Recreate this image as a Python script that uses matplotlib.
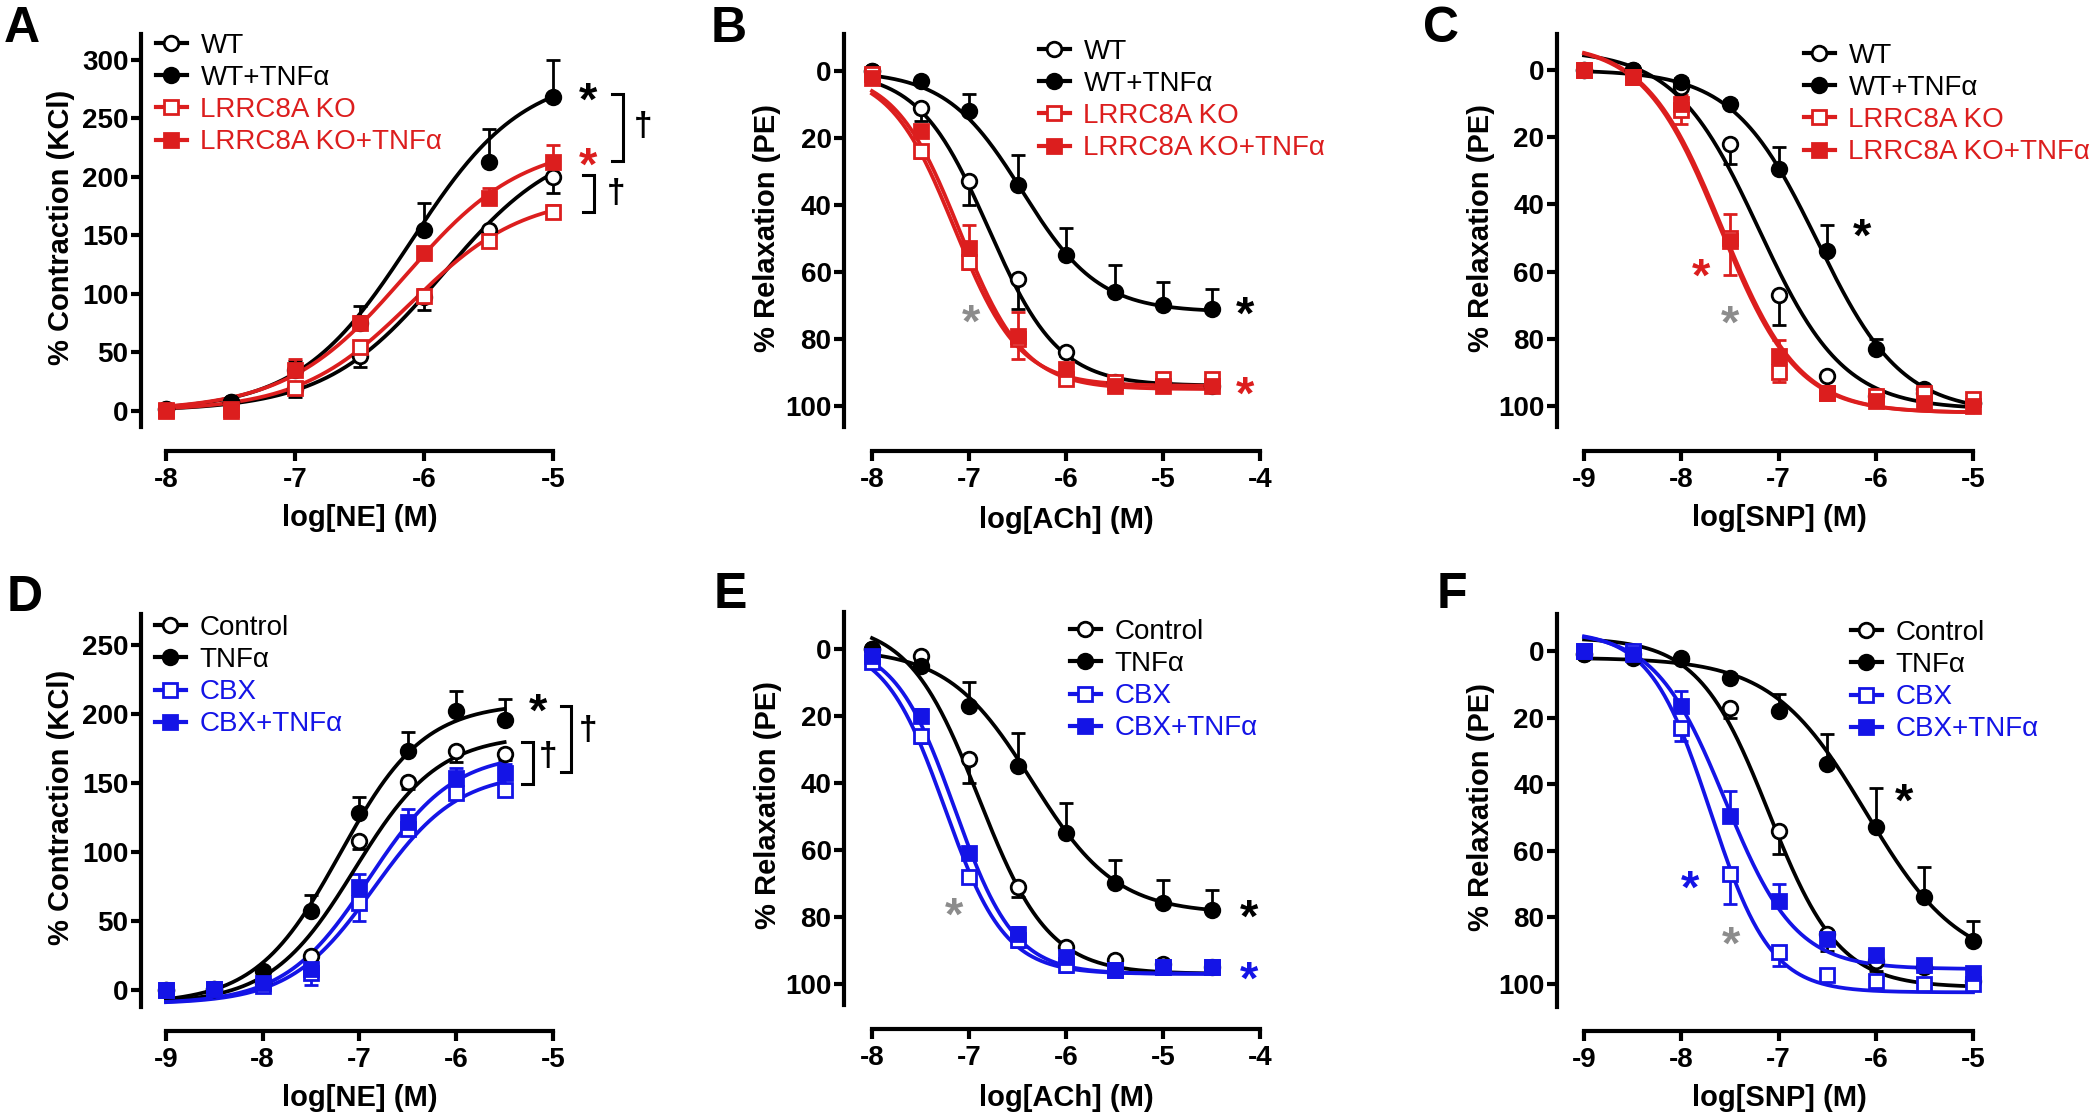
import numpy as np
import matplotlib
matplotlib.use("Agg")
import matplotlib.pyplot as plt
from matplotlib.lines import Line2D

plt.rcParams['font.family'] = ['Liberation Sans', 'DejaVu Sans']
plt.rcParams['font.weight'] = 'bold'
plt.rcParams['axes.unicode_minus'] = False

W, H = 2100, 1115
DPI = 100

BLACK = '#000000'
RED = '#DC1E1E'
BLUE = '#1414E6'
GRAY = '#8C8C8C'

# ---------------- data (mean, sem) ----------------
# A: NE contraction, WT vs LRRC8A KO
a_x = [-8, -7.5, -7, -6.5, -6, -5.5, -5]
a_wt = [2, 8, 19, 47, 97, 155, 200]
a_wt_sem = [2, 2, 7, 9, 11, 6, 14]
a_wt_tnf = [2, 8, 35, 75, 155, 213, 268]
a_wt_tnf_sem = [1, 2, 8, 15, 23, 28, 32]
a_ko = [1, 2, 20, 55, 98, 145, 170]
a_ko_sem = [1, 1, 3, 4, 6, 3, 6]
a_ko_tnf = [0, 0, 35, 75, 135, 182, 213]
a_ko_tnf_sem = [3, 2, 9, 6, 5, 9, 14]

# B: ACh relaxation
b_x = [-8, -7.5, -7, -6.5, -6, -5.5, -5, -4.5]
b_wt = [0, 11, 33, 62, 84, 93, 93, 94]
b_wt_sem = [1, 4, 7, 9, 1, 1, 1, 1]
b_wt_tnf = [0, 3, 12, 34, 55, 66, 70, 71]
b_wt_tnf_sem = [1, 1, 5, 9, 8, 8, 7, 6]
b_ko = [1, 24, 57, 80, 92, 93, 92, 92]
b_ko_sem = [1, 2, 2, 6, 1, 1, 1, 1]
b_ko_tnf = [2, 18, 53, 79, 89, 94, 94, 94]
b_ko_tnf_sem = [1, 1, 7, 7, 1, 1, 1, 1]

# C: SNP relaxation
c_x = [-9, -8.5, -8, -7.5, -7, -6.5, -6, -5.5, -5]
c_wt = [0, 0, 5, 22, 67, 91, 97, 96, 99]
c_wt_sem = [1, 1, 1, 6, 9, 1, 1, 1, 1]
c_wt_tnf = [0, 0, 3.5, 10, 29.5, 54, 83, 95, 99]
c_wt_tnf_sem = [1, 1, 1, 1, 6.5, 8, 3, 1, 1]
c_ko = [0, 2, 12, 50, 90, 96, 97, 96, 98]
c_ko_sem = [1, 1, 4, 11, 3, 1, 1, 1, 1]
c_ko_tnf = [0, 2, 10, 51, 85, 96, 98.5, 99, 100]
c_ko_tnf_sem = [1, 1, 2.5, 8, 4.5, 1, 1, 1, 1]

# D: NE contraction, control vs CBX
d_x = [-9, -8.5, -8, -7.5, -7, -6.5, -6, -5.5]
d_ctl = [0, 1, 5, 25, 108, 151, 173, 171]
d_ctl_sem = [1, 1, 2, 5, 6, 5, 8, 4]
d_tnf = [0, 1, 14, 57, 128, 173, 202, 196]
d_tnf_sem = [1, 1, 3, 12, 12, 14, 15, 15]
d_cbx = [0, 1, 3, 12, 63, 117, 143, 145]
d_cbx_sem = [2, 1, 3, 8, 13, 5, 4, 3]
d_cbx_tnf = [0, 1, 5, 15, 75, 122, 154, 157]
d_cbx_tnf_sem = [2, 1, 2, 4, 9, 9, 7, 7]

# E: ACh relaxation, control vs CBX
e_x = [-8, -7.5, -7, -6.5, -6, -5.5, -5, -4.5]
e_ctl = [0, 2, 33, 71, 89, 93, 94, 95]
e_ctl_sem = [1, 2, 7, 3, 1, 1, 1, 1]
e_tnf = [0, 5, 17, 35, 55, 70, 76, 78]
e_tnf_sem = [1, 1, 7, 10, 9, 7, 7, 6]
e_cbx = [4, 26, 68, 87, 94.5, 96, 95, 95]
e_cbx_sem = [1, 2, 2, 2, 2, 1, 1, 1]
e_cbx_tnf = [2, 20, 61, 85, 92, 96, 95, 95]
e_cbx_tnf_sem = [1, 2, 2, 2, 1, 1, 1, 1]

# F: SNP relaxation, control vs CBX
f_x = [-9, -8.5, -8, -7.5, -7, -6.5, -6, -5.5, -5]
f_ctl = [1, 1, 2, 17, 54, 85, 93, 95, 99]
f_ctl_sem = [1, 1, 1, 3, 7, 5, 3, 1, 1]
f_tnf = [1, 2, 2.5, 8, 18, 34, 53, 74, 87]
f_tnf_sem = [1, 1, 1, 1, 5, 9, 12, 9, 6]
f_cbx = [0, 0, 23, 67, 90.5, 97.4, 99, 100, 100]
f_cbx_sem = [2, 1, 4, 9, 4, 1, 1, 1, 1]
f_cbx_tnf = [0, 1, 16.5, 49.5, 75, 86.5, 91.2, 94.2, 96.6]
f_cbx_tnf_sem = [1, 1, 4.5, 7.5, 5, 2, 1, 1, 1]

# fitted curves: (bottom, top, logEC50, hill slope)
a_fit = [(0, 235, -5.85, 0.95), (0, 290, -6.1, 1.0), (0, 185, -6.1, 1.0), (0, 230, -6.15, 0.95)]
b_fit = [(0, 94, -6.8, 1.2), (0, 72, -6.45, 1.1), (0, 94, -7.15, 1.3), (0, 95, -7.1, 1.3)]
c_fit = [(-6, 101, -7.2, 1.0), (0, 102, -6.6, 1.0), (-8, 102, -7.6, 1.1), (-8, 102, -7.58, 1.1)]
d_fit = [(-10, 185, -7.05, 1.0), (-10, 208, -7.2, 1.0), (-10, 158, -6.85, 1.0), (-10, 172, -6.9, 1.0)]
e_fit = [(-8, 97, -6.9, 1.2), (0, 79, -6.35, 1.0), (-2, 97, -7.25, 1.4), (-2, 97, -7.15, 1.4)]
f_fit = [(-4, 101, -7.1, 1.2), (2, 95, -6.1, 0.9), (-6, 102.5, -7.7, 1.4), (-6, 95.5, -7.55, 1.2)]

top_labels = ['WT', 'WT+TNFα', 'LRRC8A KO', 'LRRC8A KO+TNFα']
bottom_labels = ['Control', 'TNFα', 'CBX', 'CBX+TNFα']


def hill(x, bottom, top, logec50, slope):
    return bottom + (top - bottom) / (1 + 10 ** ((logec50 - x) * slope))


def px_rect(l, r, t, b):
    return [l / W, 1 - b / H, (r - l) / W, (b - t) / H]


def draw_series(ax, x, y, sem, fit, color, marker, filled, err_dir):
    x = np.asarray(x, float)
    y = np.asarray(y, float)
    sem = np.asarray(sem, float)
    xs = np.linspace(x[0], x[-1], 300)
    ax.plot(xs, hill(xs, *fit), color=color, lw=2.7, clip_on=False, zorder=2)
    zero = np.zeros_like(sem)
    yerr = [zero, sem] if err_dir > 0 else [sem, zero]
    cont = ax.errorbar(x, y, yerr=yerr, fmt='none', ecolor=color, elinewidth=2.0,
                       capsize=5, capthick=2.0, zorder=1.5)
    for art in cont.get_children():
        art.set_clip_on(False)
    ms = 10.5 if marker == 'o' else 10
    ax.plot(x, y, ls='none', marker=marker, ms=ms, mew=2.0, mec=color,
            mfc=color if filled else 'white', clip_on=False, zorder=3)


def bracket(ax, x, y0, y1, w):
    ax.plot([x - w, x, x, x - w], [y0, y0, y1, y1], color=BLACK, lw=2.2,
            clip_on=False, solid_joinstyle='miter')


def star(ax, x, y, color, size=34):
    ax.annotate('*', xy=(x, y), xytext=(0, -0.23 * size), textcoords='offset points',
                ha='center', va='center', fontsize=size, fontweight='bold', color=color,
                annotation_clip=False)


def dagger(ax, x, y, size=24):
    ax.text(x, y, '†', ha='center', va='center', fontsize=size, fontweight='bold',
            color=BLACK, clip_on=False)


fig = plt.figure(figsize=(W / DPI, H / DPI), dpi=DPI)

panels = [
    dict(letter='A', let_xy=(22, 29), rect=(141, 553, 34, 427), xlim=(-8.194, -5),
         ylim=(-13.7, 322.2), xticks=[-8, -7, -6, -5],
         yticks=[0, 50, 100, 150, 200, 250, 300], xlabel='log[NE] (M)',
         ylabel='% Contraction (KCl)', ylab_xy=(61, 227), xlab_xy=(360, 518),
         x=a_x, ys=[a_wt, a_wt_tnf, a_ko, a_ko_tnf],
         sems=[a_wt_sem, a_wt_tnf_sem, a_ko_sem, a_ko_tnf_sem], fits=a_fit,
         colors=[BLACK, BLACK, RED, RED], dirs=[-1, 1, 1, 1], labels=top_labels,
         leg_xy=(156, 46)),
    dict(letter='B', let_xy=(729, 29), rect=(844, 1260, 34, 427), xlim=(-8.289, -4),
         ylim=(106.3, -11.0), xticks=[-8, -7, -6, -5, -4],
         yticks=[0, 20, 40, 60, 80, 100], xlabel='log[ACh] (M)',
         ylabel='% Relaxation (PE)', ylab_xy=(767, 228), xlab_xy=(1066, 520),
         x=b_x, ys=[b_wt, b_wt_tnf, b_ko, b_ko_tnf],
         sems=[b_wt_sem, b_wt_tnf_sem, b_ko_sem, b_ko_tnf_sem], fits=b_fit,
         colors=[BLACK, BLACK, RED, RED], dirs=[1, -1, 1, -1], labels=top_labels,
         leg_xy=(1039, 52)),
    dict(letter='C', let_xy=(1441, 29), rect=(1557, 1973, 34, 427), xlim=(-9.278, -5),
         ylim=(106.25, -10.7), xticks=[-9, -8, -7, -6, -5],
         yticks=[0, 20, 40, 60, 80, 100], xlabel='log[SNP] (M)',
         ylabel='% Relaxation (PE)', ylab_xy=(1481, 228), xlab_xy=(1779, 518),
         x=c_x, ys=[c_wt, c_wt_tnf, c_ko, c_ko_tnf],
         sems=[c_wt_sem, c_wt_tnf_sem, c_ko_sem, c_ko_tnf_sem], fits=c_fit,
         colors=[BLACK, BLACK, RED, RED], dirs=[1, -1, 1, -1], labels=top_labels,
         leg_xy=(1804, 56)),
    dict(letter='D', let_xy=(25, 598), rect=(141, 553, 614, 1007), xlim=(-9.258, -5),
         ylim=(-12.3, 272.5), xticks=[-9, -8, -7, -6, -5],
         yticks=[0, 50, 100, 150, 200, 250], xlabel='log[NE] (M)',
         ylabel='% Contraction (KCl)', ylab_xy=(61, 807), xlab_xy=(360, 1098),
         x=d_x, ys=[d_ctl, d_tnf, d_cbx, d_cbx_tnf],
         sems=[d_ctl_sem, d_tnf_sem, d_cbx_sem, d_cbx_tnf_sem], fits=d_fit,
         colors=[BLACK, BLACK, BLUE, BLUE], dirs=[-1, 1, -1, 1], labels=bottom_labels,
         leg_xy=(155, 628)),
    dict(letter='E', let_xy=(730, 595), rect=(844, 1260, 612, 1005), xlim=(-8.289, -4),
         ylim=(106.3, -11.0), xticks=[-8, -7, -6, -5, -4],
         yticks=[0, 20, 40, 60, 80, 100], xlabel='log[ACh] (M)',
         ylabel='% Relaxation (PE)', ylab_xy=(768, 805), xlab_xy=(1066, 1098),
         x=e_x, ys=[e_ctl, e_tnf, e_cbx, e_cbx_tnf],
         sems=[e_ctl_sem, e_tnf_sem, e_cbx_sem, e_cbx_tnf_sem], fits=e_fit,
         colors=[BLACK, BLACK, BLUE, BLUE], dirs=[1, -1, 1, -1], labels=bottom_labels,
         leg_xy=(1070, 632)),
    dict(letter='F', let_xy=(1452, 595), rect=(1557, 1973, 614, 1007), xlim=(-9.278, -5),
         ylim=(106.9, -11.1), xticks=[-9, -8, -7, -6, -5],
         yticks=[0, 20, 40, 60, 80, 100], xlabel='log[SNP] (M)',
         ylabel='% Relaxation (PE)', ylab_xy=(1481, 807), xlab_xy=(1779, 1098),
         x=f_x, ys=[f_ctl, f_tnf, f_cbx, f_cbx_tnf],
         sems=[f_ctl_sem, f_tnf_sem, f_cbx_sem, f_cbx_tnf_sem], fits=f_fit,
         colors=[BLACK, BLACK, BLUE, BLUE], dirs=[1, -1, 1, -1], labels=bottom_labels,
         leg_xy=(1851, 633)),
]

markers = ['o', 'o', 's', 's']
filled = [False, True, False, True]
axes = {}

for p in panels:
    ax = fig.add_axes(px_rect(*p['rect']))
    axes[p['letter']] = ax
    for i in range(4):
        draw_series(ax, p['x'], p['ys'][i], p['sems'][i], p['fits'][i], p['colors'][i],
                    markers[i], filled[i], p['dirs'][i])
    ax.set_xlim(*p['xlim'])
    ax.set_ylim(*p['ylim'])
    ax.set_xticks(p['xticks'])
    ax.set_yticks(p['yticks'])
    ax.spines['top'].set_visible(False)
    ax.spines['right'].set_visible(False)
    for s in ('left', 'bottom'):
        ax.spines[s].set_linewidth(3.0)
    ax.spines['bottom'].set_position(('outward', 17.5))
    ax.spines['bottom'].set_bounds(p['xticks'][0], p['xticks'][-1])
    ax.tick_params(axis='both', width=3.0, length=7, labelsize=20)
    ax.tick_params(axis='x', pad=4)
    ax.tick_params(axis='y', pad=2)
    ax.patch.set_visible(False)

    ax.set_xlabel(p['xlabel'], fontsize=21, fontweight='bold', va='center')
    ax.xaxis.set_label_coords(p['xlab_xy'][0] / W, 1 - p['xlab_xy'][1] / H,
                              transform=fig.transFigure)
    ax.set_ylabel(p['ylabel'], fontsize=21, fontweight='bold', va='center')
    ax.yaxis.set_label_coords(p['ylab_xy'][0] / W, 1 - p['ylab_xy'][1] / H,
                              transform=fig.transFigure)

    handles = [Line2D([], [], color=p['colors'][i], lw=3.0, marker=markers[i],
                      ms=10.5 if markers[i] == 'o' else 10, mew=2.0, mec=p['colors'][i],
                      mfc=p['colors'][i] if filled[i] else 'white') for i in range(4)]
    lx, ly = p['leg_xy']
    ax.legend(handles, p['labels'], loc='upper left',
              bbox_to_anchor=(lx / W, 1 - (ly - 13) / H), bbox_transform=fig.transFigure,
              frameon=False, prop={'size': 20, 'weight': 'normal'}, handlelength=1.1,
              handletextpad=0.5, labelspacing=0.22, borderpad=0, borderaxespad=0,
              labelcolor=p['colors'])

    fig.text(p['let_xy'][0] / W, 1 - p['let_xy'][1] / H, p['letter'], fontsize=36,
             fontweight='bold', ha='center', va='center')

# significance marks
ax = axes['A']
star(ax, -4.73, 273, BLACK)
star(ax, -4.73, 217, RED)
bracket(ax, -4.46, 271, 214, 0.085)
dagger(ax, -4.30, 243)
bracket(ax, -4.68, 202, 170, 0.085)
dagger(ax, -4.51, 186)

ax = axes['B']
star(ax, -6.98, 72.5, GRAY)
star(ax, -4.15, 70, BLACK)
star(ax, -4.15, 94, RED)

ax = axes['C']
star(ax, -6.14, 47, BLACK)
star(ax, -7.80, 59, RED)
star(ax, -7.50, 73, GRAY)

ax = axes['D']
star(ax, -5.155, 208, BLACK)
bracket(ax, -5.21, 180, 149, 0.11)
dagger(ax, -5.05, 169)
bracket(ax, -4.81, 206, 158, 0.11)
dagger(ax, -4.64, 188)

ax = axes['E']
star(ax, -7.15, 77, GRAY)
star(ax, -4.11, 77.6, BLACK)
star(ax, -4.11, 96, BLUE)

ax = axes['F']
star(ax, -5.71, 42.6, BLACK)
star(ax, -7.91, 68.8, BLUE)
star(ax, -7.49, 85.6, GRAY)

fig.savefig('out.png', dpi=DPI)
